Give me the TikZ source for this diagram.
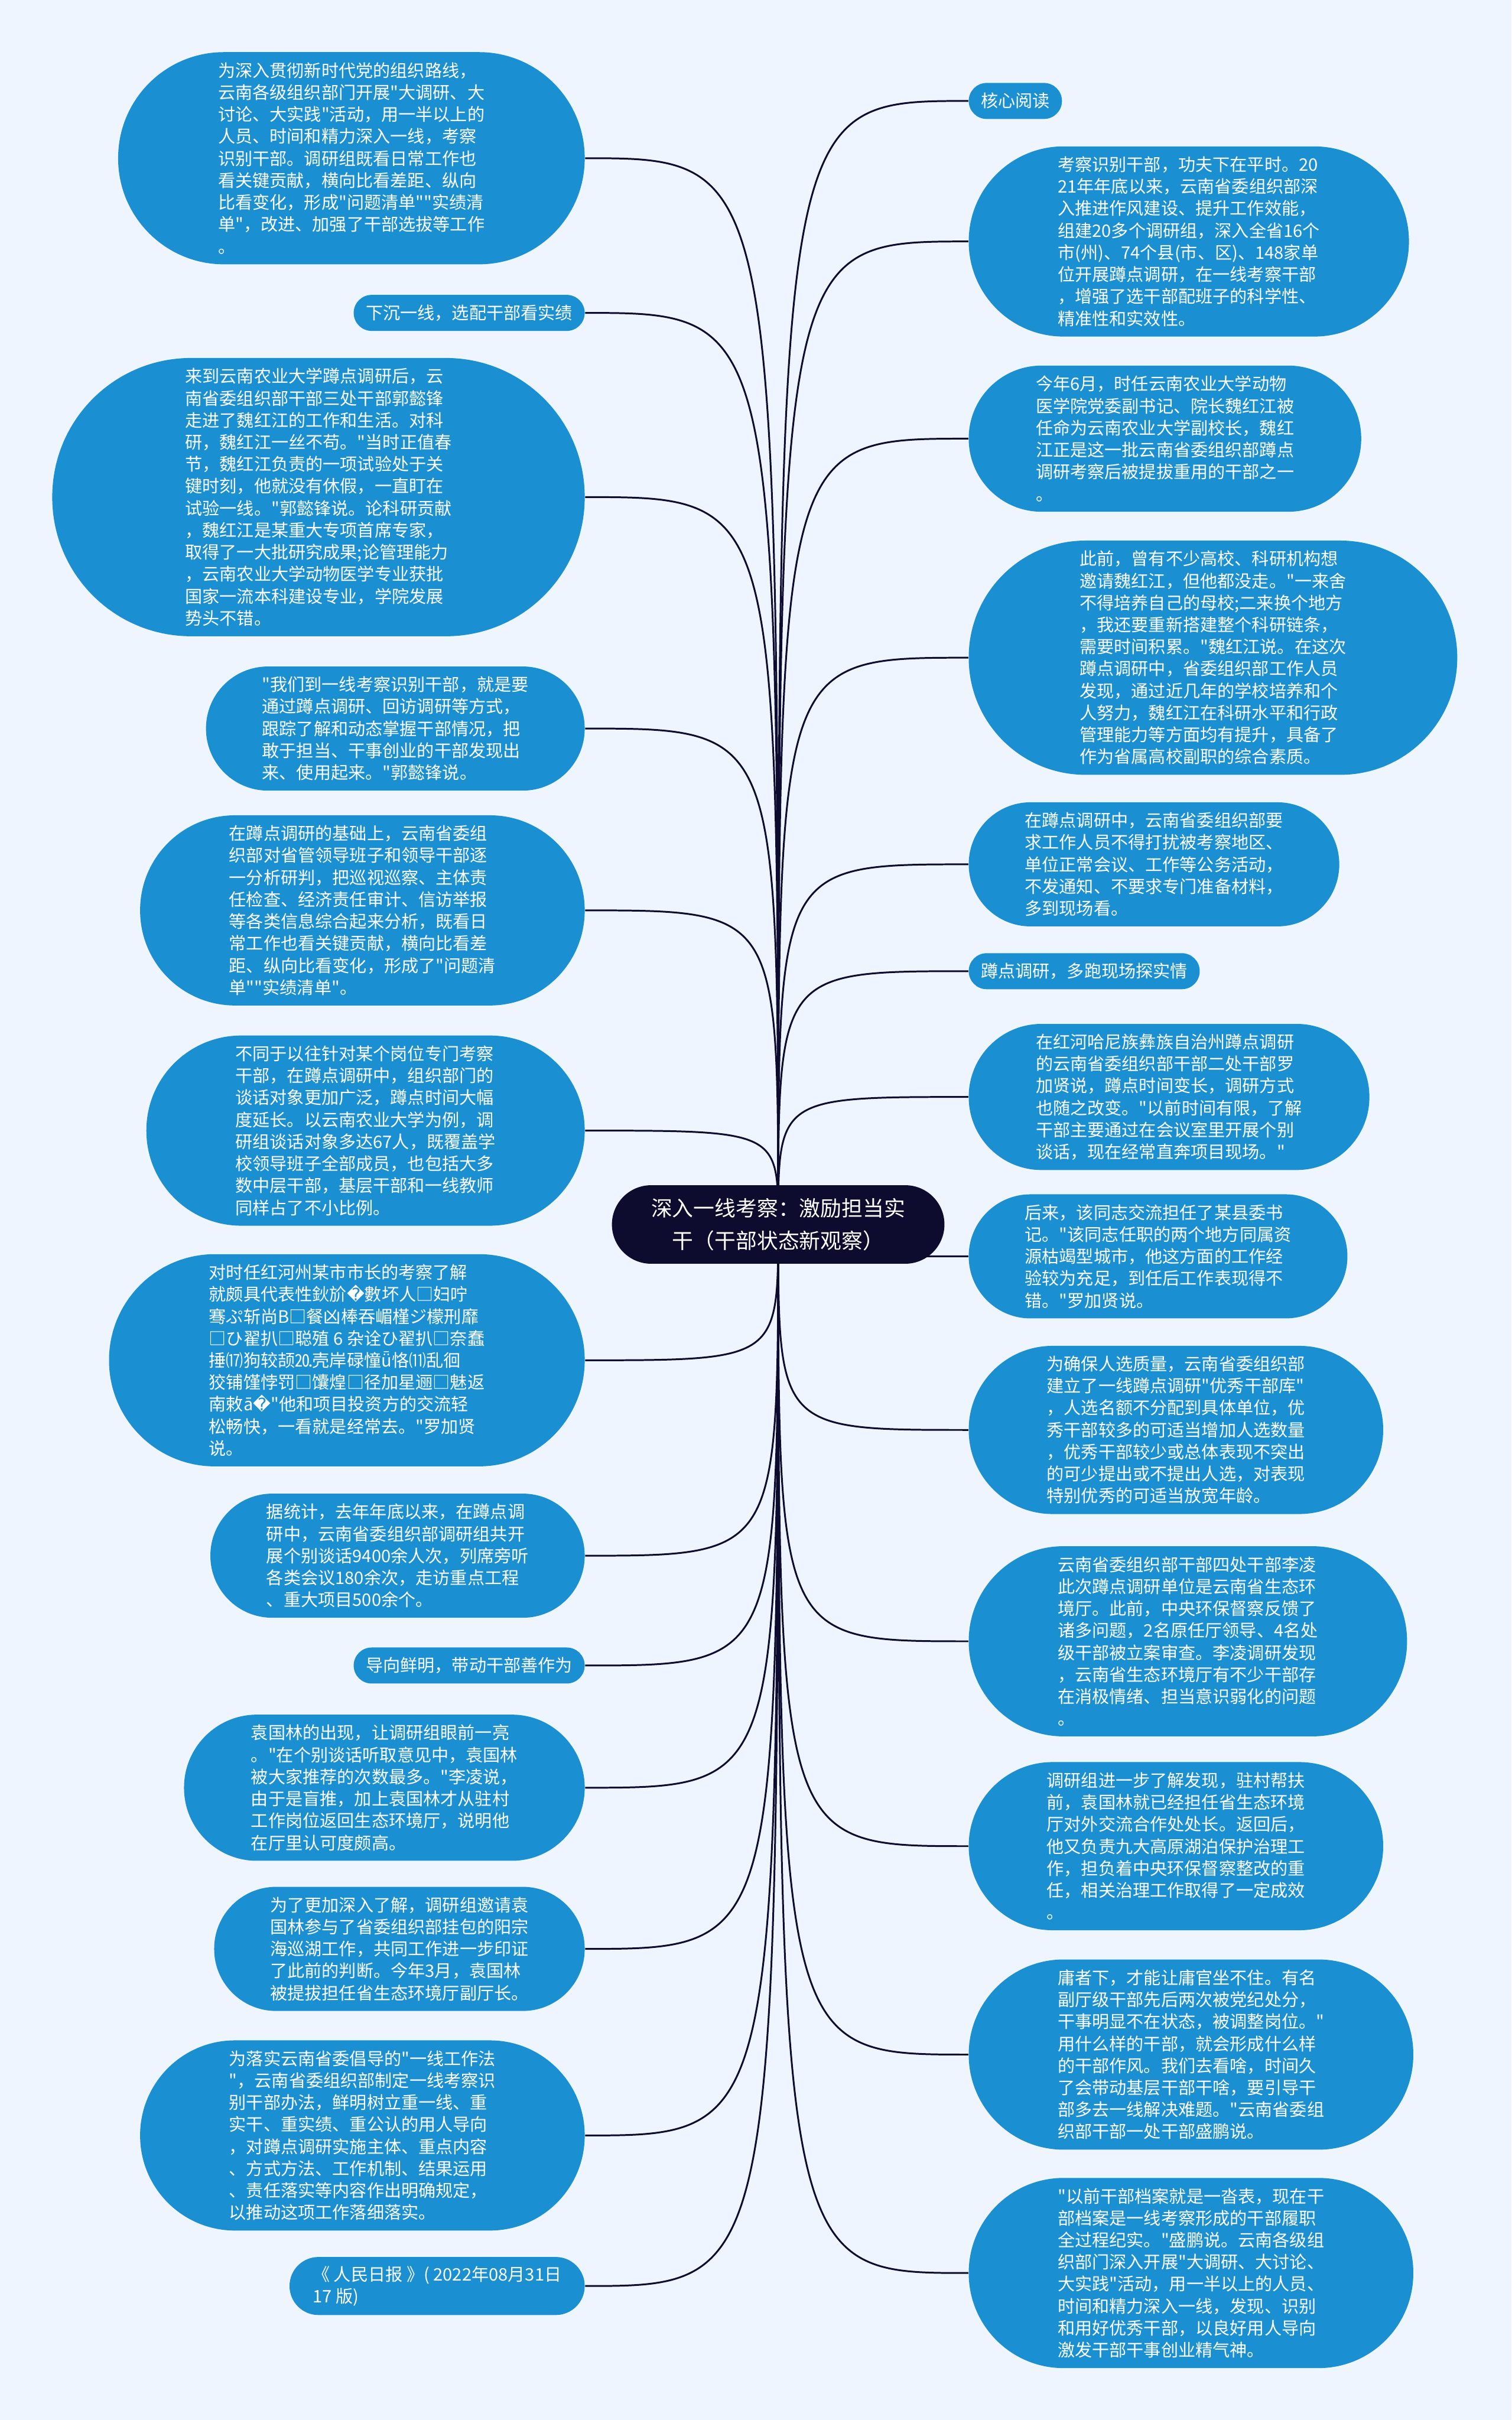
\documentclass[tikz,border=0pt]{standalone}
\usepackage{fontspec}
\setmainfont{Noto Sans CJK SC}[Ligatures=TeXOff]
\newfontfamily\symfont{DejaVu Sans}
\definecolor{bgblue}{RGB}{238,245,254}
\definecolor{leafblue}{RGB}{26,144,210}
\definecolor{topicnavy}{RGB}{13,11,46}
\tikzset{
    leaf/.style={rectangle, fill=leafblue, text=white, align=left,
        minimum height={0.373cm*#1+0.237cm}, rounded corners={0.186cm*#1+0.118cm},
        inner xsep={0.186cm*#1+0.02cm}, inner ysep=0pt,
        font=\fontsize{8.3pt}{10.6pt}\selectfont},
    leaf/.default=1
}
\tikzset{
    topic/.style={rectangle, fill=topicnavy, text=white, align=center,
        minimum height=1.33cm, rounded corners=0.664cm, inner xsep=0.665cm,
        inner ysep=0pt, font=\fontsize{10.2pt}{15.6pt}\selectfont}
}
\tikzset{
    branch/.style={line width=0.85pt, draw=topicnavy,
        to path={.. controls (\tikztostart |- \tikztotarget) .. (\tikztotarget)}}
}
\pgfdeclarelayer{background}
\pgfsetlayers{background,main}

\begin{document}
\begin{tikzpicture}
  \node (topic) [topic] at (13.18cm, -20.74cm) {深入一线考察：激励担当实\\干（干部状态新观察）};

  \node (l1) [leaf=9, anchor=east] at (9.91cm, -2.68cm) {为深入贯彻新时代党的组织路线，\\云南各级组织部门开展"大调研、大\\讨论、大实践"活动，用一半以上的\\人员、时间和精力深入一线，考察\\识别干部。调研组既看日常工作也\\看关键贡献，横向比看差距、纵向\\比看变化，形成"问题清单""实绩清\\单"，改进、加强了干部选拔等工作\\。};
  \node (l2) [leaf=1, anchor=east] at (9.91cm, -5.30cm) {下沉一线，选配干部看实绩};
  \node (l3) [leaf=12, anchor=east] at (9.91cm, -8.42cm) {来到云南农业大学蹲点调研后，云\\南省委组织部干部三处干部郭懿锋\\走进了魏红江的工作和生活。对科\\研，魏红江一丝不苟。"当时正值春\\节，魏红江负责的一项试验处于关\\键时刻，他就没有休假，一直盯在\\试验一线。"郭懿锋说。论科研贡献\\，魏红江是某重大专项首席专家，\\取得了一大批研究成果;论管理能力\\，云南农业大学动物医学专业获批\\国家一流本科建设专业，学院发展\\势头不错。};
  \node (l4) [leaf=5, anchor=east] at (9.91cm, -12.34cm) {"我们到一线考察识别干部，就是要\\通过蹲点调研、回访调研等方式，\\跟踪了解和动态掌握干部情况，把\\敢于担当、干事创业的干部发现出\\来、使用起来。"郭懿锋说。};
  \node (l5) [leaf=8, anchor=east] at (9.91cm, -15.42cm) {在蹲点调研的基础上，云南省委组\\织部对省管领导班子和领导干部逐\\一分析研判，把巡视巡察、主体责\\任检查、经济责任审计、信访举报\\等各类信息综合起来分析，既看日\\常工作也看关键贡献，横向比看差\\距、纵向比看变化，形成了"问题清\\单""实绩清单"。};
  \node (l6) [leaf=8, anchor=east] at (9.91cm, -19.15cm) {不同于以往针对某个岗位专门考察\\干部，在蹲点调研中，组织部门的\\谈话对象更加广泛，蹲点时间大幅\\度延长。以云南农业大学为例，调\\研组谈话对象多达67人，既覆盖学\\校领导班子全部成员，也包括大多\\数中层干部，基层干部和一线教师\\同样占了不小比例。};
  \node (l7) [leaf=9, anchor=east] at (9.91cm, -23.04cm) {对时任红河州某市市长的考察了解\\就颇具代表性鈥斺{\symfont �}數坏人□妇咛\\骞ぷ斩尚B□餐凶棒吞嵋槿ジ檬刑靡\\□ひ翟扒□聪殖 6 杂诠ひ翟扒□奈蠢\\捶⒄狗较颉⒛壳岸碌憧ǖ恪⑾乱徊\\狡铺馑悖罚□馕煌□径加星逦□魅返\\南敕ā{\symfont �}"他和项目投资方的交流轻\\松畅快，一看就是经常去。"罗加贤\\说。};
  \node (l8) [leaf=5, anchor=east] at (9.91cm, -26.35cm) {据统计，去年年底以来，在蹲点调\\研中，云南省委组织部调研组共开\\展个别谈话9400余人次，列席旁听\\各类会议180余次，走访重点工程\\、重大项目500余个。};
  \node (l9) [leaf=1, anchor=east] at (9.91cm, -28.21cm) {导向鲜明，带动干部善作为};
  \node (l10) [leaf=6, anchor=east] at (9.91cm, -30.28cm) {袁国林的出现，让调研组眼前一亮\\。"在个别谈话听取意见中，袁国林\\被大家推荐的次数最多。"李凌说，\\由于是盲推，加上袁国林才从驻村\\工作岗位返回生态环境厅，说明他\\在厅里认可度颇高。};
  \node (l11) [leaf=5, anchor=east] at (9.91cm, -33.01cm) {为了更加深入了解，调研组邀请袁\\国林参与了省委组织部挂包的阳宗\\海巡湖工作，共同工作进一步印证\\了此前的判断。今年3月，袁国林\\被提拔担任省生态环境厅副厅长。};
  \node (l12) [leaf=8, anchor=east] at (9.91cm, -36.17cm) {为落实云南省委倡导的"一线工作法\\"，云南省委组织部制定一线考察识\\别干部办法，鲜明树立重一线、重\\实干、重实绩、重公认的用人导向\\，对蹲点调研实施主体、重点内容\\、方式方法、工作机制、结果运用\\、责任落实等内容作出明确规定，\\以推动这项工作落细落实。};
  \node (l13) [leaf=2, anchor=east] at (9.91cm, -38.72cm) {《 人民日报 》( 2022年08月31日\\17 版)};

  \node (r1) [leaf=1, anchor=west] at (16.40cm, -1.71cm) {核心阅读};
  \node (r2) [leaf=8, anchor=west] at (16.40cm, -4.09cm) {考察识别干部，功夫下在平时。20\\21年年底以来，云南省委组织部深\\入推进作风建设、提升工作效能，\\组建20多个调研组，深入全省16个\\市(州)、74个县(市、区)、148家单\\位开展蹲点调研，在一线考察干部\\，增强了选干部配班子的科学性、\\精准性和实效性。};
  \node (r3) [leaf=6, anchor=west] at (16.40cm, -7.43cm) {今年6月，时任云南农业大学动物\\医学院党委副书记、院长魏红江被\\任命为云南农业大学副校长，魏红\\江正是这一批云南省委组织部蹲点\\调研考察后被提拔重用的干部之一\\。};
  \node (r4) [leaf=10, anchor=west] at (16.40cm, -11.14cm) {此前，曾有不少高校、科研机构想\\邀请魏红江，但他都没走。"一来舍\\不得培养自己的母校;二来换个地方\\，我还要重新搭建整个科研链条，\\需要时间积累。"魏红江说。在这次\\蹲点调研中，省委组织部工作人员\\发现，通过近几年的学校培养和个\\人努力，魏红江在科研水平和行政\\管理能力等方面均有提升，具备了\\作为省属高校副职的综合素质。};
  \node (r5) [leaf=5, anchor=west] at (16.40cm, -14.64cm) {在蹲点调研中，云南省委组织部要\\求工作人员不得打扰被考察地区、\\单位正常会议、工作等公务活动，\\不发通知、不要求专门准备材料，\\多到现场看。};
  \node (r6) [leaf=1, anchor=west] at (16.40cm, -16.45cm) {蹲点调研，多跑现场探实情};
  \node (r7) [leaf=6, anchor=west] at (16.40cm, -18.58cm) {在红河哈尼族彝族自治州蹲点调研\\的云南省委组织部干部二处干部罗\\加贤说，蹲点时间变长，调研方式\\也随之改变。"以前时间有限，了解\\干部主要通过在会议室里开展个别\\谈话，现在经常直奔项目现场。"};
  \node (r8) [leaf=5, anchor=west] at (16.40cm, -21.28cm) {后来，该同志交流担任了某县委书\\记。"该同志任职的两个地方同属资\\源枯竭型城市，他这方面的工作经\\验较为充足，到任后工作表现得不\\错。"罗加贤说。};
  \node (r9) [leaf=7, anchor=west] at (16.40cm, -24.22cm) {为确保人选质量，云南省委组织部\\建立了一线蹲点调研"优秀干部库"\\，人选名额不分配到具体单位，优\\秀干部较多的可适当增加人选数量\\，优秀干部较少或总体表现不突出\\的可少提出或不提出人选，对表现\\特别优秀的可适当放宽年龄。};
  \node (r10) [leaf=8, anchor=west] at (16.40cm, -27.80cm) {云南省委组织部干部四处干部李凌\\此次蹲点调研单位是云南省生态环\\境厅。此前，中央环保督察反馈了\\诸多问题，2名原任厅领导、4名处\\级干部被立案审查。李凌调研发现\\，云南省生态环境厅有不少干部存\\在消极情绪、担当意识弱化的问题\\。};
  \node (r11) [leaf=7, anchor=west] at (16.40cm, -31.27cm) {调研组进一步了解发现，驻村帮扶\\前，袁国林就已经担任省生态环境\\厅对外交流合作处处长。返回后，\\他又负责九大高原湖泊保护治理工\\作，担负着中央环保督察整改的重\\任，相关治理工作取得了一定成效\\。};
  \node (r12) [leaf=8, anchor=west] at (16.40cm, -34.80cm) {庸者下，才能让庸官坐不住。有名\\副厅级干部先后两次被党纪处分，\\干事明显不在状态，被调整岗位。"\\用什么样的干部，就会形成什么样\\的干部作风。我们去看啥，时间久\\了会带动基层干部干啥，要引导干\\部多去一线解决难题。"云南省委组\\织部干部一处干部盛鹏说。};
  \node (r13) [leaf=8, anchor=west] at (16.40cm, -38.50cm) {"以前干部档案就是一沓表，现在干\\部档案是一线考察形成的干部履职\\全过程纪实。"盛鹏说。云南各级组\\织部门深入开展"大调研、大讨论、\\大实践"活动，用一半以上的人员、\\时间和精力深入一线，发现、识别\\和用好优秀干部，以良好用人导向\\激发干部干事创业精气神。};

  \begin{pgfonlayer}{background}
    \fill [bgblue] (0cm, 0cm) rectangle (25.6cm, -40.99cm);
    \draw (topic.center) edge [branch] (l1.east);
    \draw (topic.center) edge [branch] (l2.east);
    \draw (topic.center) edge [branch] (l3.east);
    \draw (topic.center) edge [branch] (l4.east);
    \draw (topic.center) edge [branch] (l5.east);
    \draw (topic.center) edge [branch] (l6.east);
    \draw (topic.center) edge [branch] (l7.east);
    \draw (topic.center) edge [branch] (l8.east);
    \draw (topic.center) edge [branch] (l9.east);
    \draw (topic.center) edge [branch] (l10.east);
    \draw (topic.center) edge [branch] (l11.east);
    \draw (topic.center) edge [branch] (l12.east);
    \draw (topic.center) edge [branch] (l13.east);
    \draw (topic.center) edge [branch] (r1.west);
    \draw (topic.center) edge [branch] (r2.west);
    \draw (topic.center) edge [branch] (r3.west);
    \draw (topic.center) edge [branch] (r4.west);
    \draw (topic.center) edge [branch] (r5.west);
    \draw (topic.center) edge [branch] (r6.west);
    \draw (topic.center) edge [branch] (r7.west);
    \draw (topic.center) edge [branch] (r8.west);
    \draw (topic.center) edge [branch] (r9.west);
    \draw (topic.center) edge [branch] (r10.west);
    \draw (topic.center) edge [branch] (r11.west);
    \draw (topic.center) edge [branch] (r12.west);
    \draw (topic.center) edge [branch] (r13.west);
  \end{pgfonlayer}
\end{tikzpicture}
\end{document}
